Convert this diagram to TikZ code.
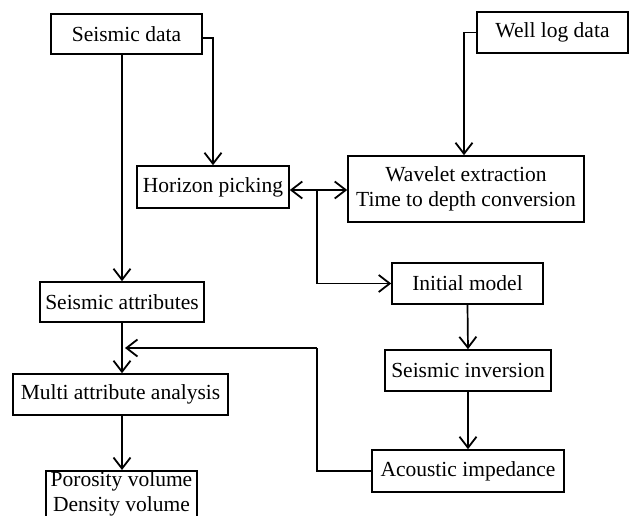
\documentclass[tikz,border=0pt]{standalone}
\usepackage{fontspec}
\setmainfont{Liberation Serif}
\usetikzlibrary{arrows.meta,positioning,calc}

\begin{document}
\begin{tikzpicture}[
  x=1pt, y=-1pt,
  font=\fontsize{21.5}{25}\selectfont,
  box/.style={draw, line width=1.6pt, align=center, inner sep=1pt, minimum height=41pt},
  arr/.style={-{Straight Barb[length=11pt, width=17pt, line width=1.8pt]}, line width=1.7pt},
  plain/.style={line width=1.7pt}
]
  \useasboundingbox (0,0) rectangle (630,515);

  \node[box, minimum width=151pt, minimum height=40pt] (sd) at (126.5,34) {Seismic data};
  \node[box, minimum width=151pt] (wl) at (552.5,32.5) {Well log data};
  \node[box, minimum width=152pt, minimum height=42pt] (hp) at (213,187) {Horizon picking};
  \node[box, minimum width=236pt, minimum height=66pt] (we) at (466,189) {Wavelet extraction\\ Time to depth conversion};
  \node[box, minimum width=164pt, minimum height=40pt] (sa) at (122,302) {Seismic attributes};
  \node[box, minimum width=151pt] (im) at (467.5,283.5) {Initial model};
  \node[box, minimum width=166pt] (si) at (468,370.5) {Seismic inversion};
  \node[box, minimum width=215pt] (ma) at (120.5,394.5) {Multi attribute analysis};
  \node[box, minimum width=192pt, minimum height=42pt] (ai) at (468,471) {Acoustic impedance};
  \node[box, minimum width=151pt, inner sep=0.5pt, anchor=north] (pv) at (121.5,470)
    {Porosity volume\\ Density volume};

  \coordinate (jn) at (317,190);
  \coordinate (fb) at (317,348);

  \draw[arr] (sd.east |- 0,38) -| (hp.north);
  \draw[arr] (sd.south -| sa.north) -- (sa.north);
  \draw[arr] (wl.west) -| (we.north -| 464,0);
  \draw[arr] (jn) -- (jn -| hp.east);
  \draw[arr] (jn) -- (jn -| we.west);
  \draw[arr] (jn) |- (im.west);
  \draw[arr] (im.south) -- (si.north);
  \draw[arr] (si.south) -- (ai.north);
  \draw[arr] (sa.south) -- (sa.south |- ma.north);
  \draw[arr] (ma.south -| sa.south) -- (pv.north -| sa.south);
  \draw[plain] (ai.west) -| (fb);
  \draw[arr] (fb) -- (fb -| 125,0);
\end{tikzpicture}
\end{document}
